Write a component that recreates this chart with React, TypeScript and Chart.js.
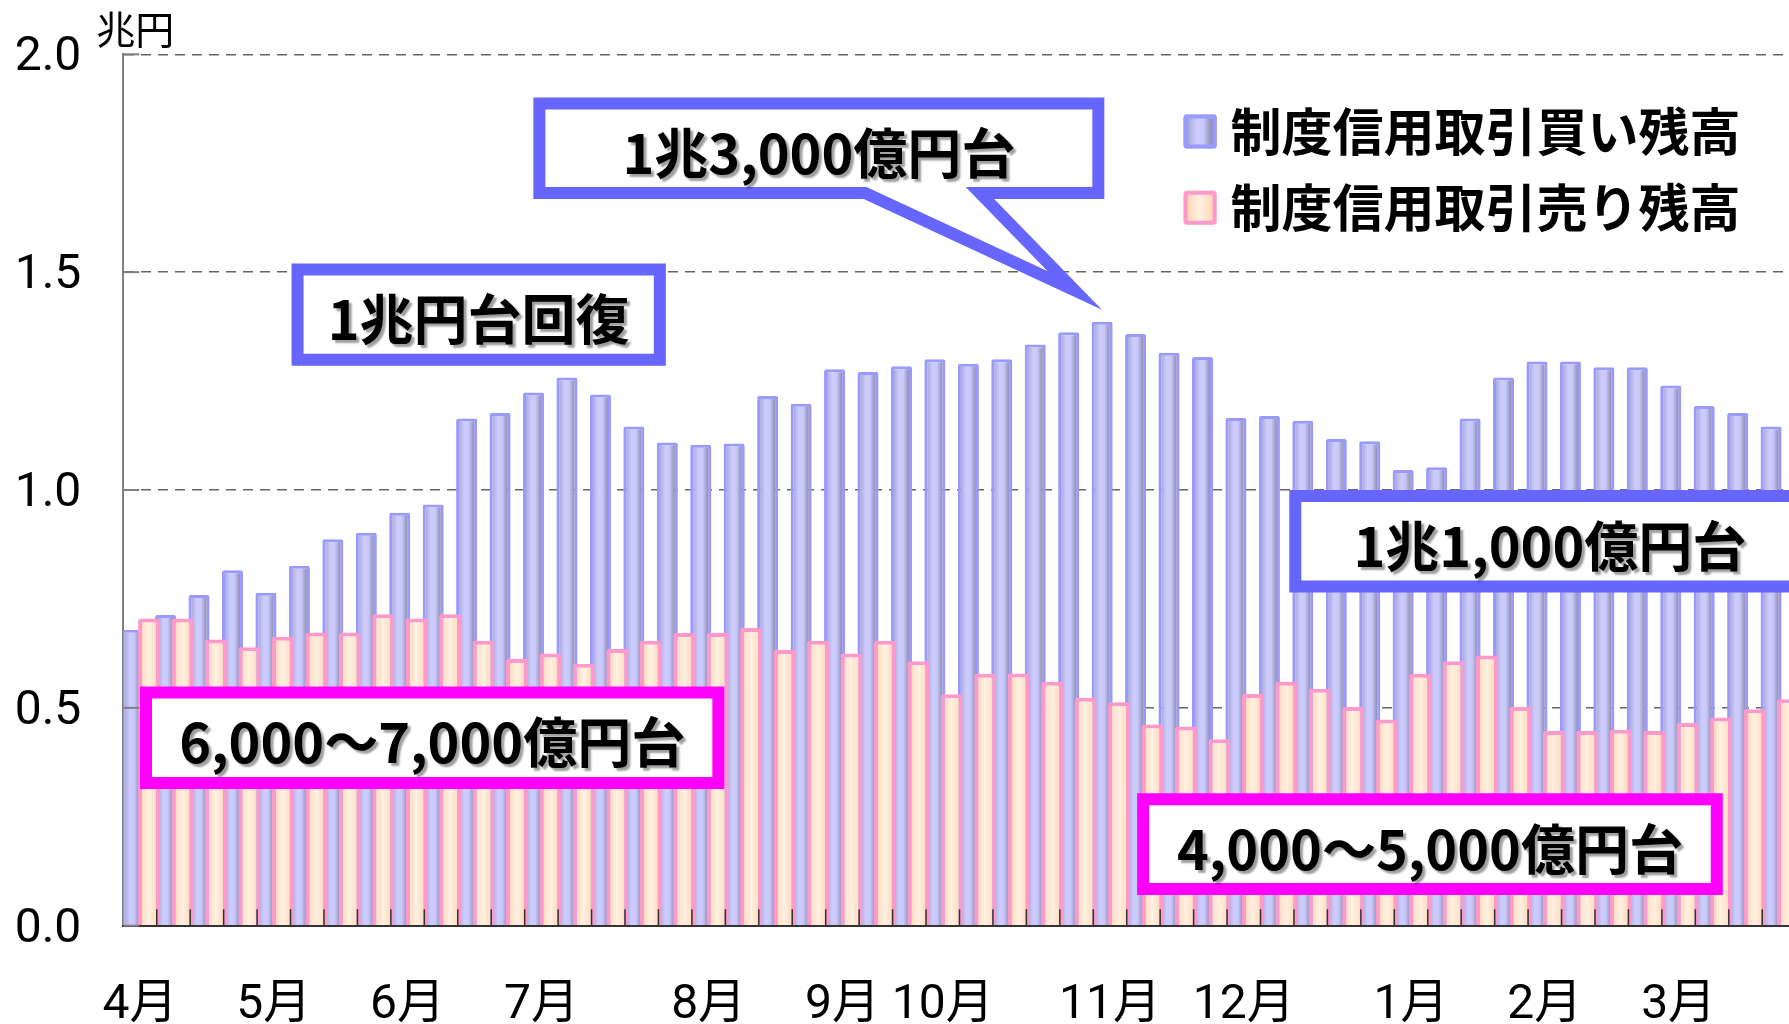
import React, { useEffect, useRef } from 'react';
import { Chart, registerables } from 'chart.js';

Chart.register(...registerables);

// ---- data ----
const WEEK_LABELS: string[] = [
  '4月', '', '', '',
  '5月', '', '', '',
  '6月', '', '', '',
  '7月', '', '', '', '',
  '8月', '', '', '',
  '9月', '', '',
  '10月', '', '', '', '',
  '11月', '', '', '',
  '12月', '', '', '', '',
  '1月', '', '', '',
  '2月', '', '', '',
  '3月', '', '', '',
];

const BUY_BALANCE: number[] = [
  0.679, 0.713, 0.759, 0.816, 0.764, 0.826, 0.887, 0.902, 0.948, 0.967,
  1.164, 1.177, 1.224, 1.258, 1.219, 1.146, 1.109, 1.104, 1.107, 1.216,
  1.198, 1.277, 1.271, 1.284, 1.300, 1.290, 1.300, 1.334, 1.362, 1.386,
  1.358, 1.315, 1.305, 1.165, 1.170, 1.159, 1.117, 1.112, 1.046, 1.052,
  1.164, 1.258, 1.295, 1.295, 1.282, 1.282, 1.240, 1.193, 1.177, 1.146,
];

const SELL_BALANCE: number[] = [
  0.705, 0.705, 0.657, 0.639, 0.663, 0.673, 0.673, 0.715, 0.705, 0.715,
  0.654, 0.612, 0.625, 0.601, 0.635, 0.654, 0.672, 0.672, 0.683, 0.633,
  0.654, 0.625, 0.654, 0.607, 0.531, 0.578, 0.579, 0.560, 0.523, 0.513,
  0.462, 0.457, 0.428, 0.532, 0.560, 0.544, 0.502, 0.473, 0.578, 0.607,
  0.620, 0.502, 0.447, 0.447, 0.450, 0.447, 0.465, 0.478, 0.497, 0.520,
];

const SERIES_NAMES: string[] = ['制度信用取引買い残高', '制度信用取引売り残高'];
const UNIT_LABEL = '兆円';
const Y_TICK_STEP = 0.5;
const Y_MIN = 0;
const Y_MAX = 2;

// ---- layout / style constants ----
const W = 1789;
const H = 1024;
const PLOT_LEFT = 123.3;
const PLOT_TOP = 54.3;
const PLOT_BOTTOM = 925.7;
const X_MAX = 49.8;
const BUY_OFFSET = 0.265;
const SELL_OFFSET = 0.77;
const AXIS_FONT = "Roboto, 'Noto Sans CJK JP', sans-serif";
const CJK_FONT = "'Noto Sans CJK JP', sans-serif";

const BUY_STOPS: [number, string][] = [
  [0, '#8c8cb6'], [0.18, '#b0b0e0'], [0.4, '#ccccff'], [0.6, '#c8c8fa'], [0.8, '#9a9ac2'], [1, '#7e7e9e'],
];
const SELL_STOPS: [number, string][] = [
  [0, '#ffc9a6'], [0.25, '#ffe2c8'], [0.5, '#fff0e2'], [0.75, '#ffe2c8'], [1, '#ffc9a6'],
];

type Annot = {
  text: string; color: string; x0: number; x1: number; y0: number; y1: number; tx?: number;
  pointer?: { b0: number; b1: number; tipX: number; tipY: number };
};

const ANNOTATIONS: Annot[] = [
  { text: '1兆3,000億円台', color: '#6666ff', x0: 12.26, x1: 29.33, y0: 1.668, y1: 1.901,
    pointer: { b0: 22.18, b1: 25.61, tipX: 28.45, tipY: 1.458 } },
  { text: '1兆円台回復', color: '#6666ff', x0: 5.03, x1: 16.22, y0: 1.285, y1: 1.52 },
  { text: '1兆1,000億円台', color: '#6666ff', x0: 34.86, x1: 50.57, y0: 0.765, y1: 1.0, tx: 42.65 },
  { text: '6,000～7,000億円台', color: '#ff00ff', x0: 0.5, x1: 17.97, y0: 0.314, y1: 0.549 },
  { text: '4,000～5,000億円台', color: '#ff00ff', x0: 30.31, x1: 47.82, y0: 0.0705, y1: 0.304 },
];

const LEGEND_X = 31.7;
const LEGEND_ROWS = [1.823, 1.648];

function makeFill(stops: [number, string][], axisId: string) {
  return (c: any) => {
    const chart = c.chart;
    const sc = chart && chart.scales ? chart.scales[axisId] : null;
    if (c.type !== 'data' || !sc || !chart.chartArea || !c.raw) return stops[2][1];
    const cx = sc.getPixelForValue(c.raw.x);
    const w = (sc.getPixelForValue(1) - sc.getPixelForValue(0)) * (c.dataset.barPercentage || 0.6);
    if (!isFinite(cx) || !isFinite(w)) return stops[2][1];
    const g = chart.ctx.createLinearGradient(cx - w / 2, 0, cx + w / 2, 0);
    stops.forEach(([o, col]) => g.addColorStop(o, col));
    return g;
  };
}

function roundRect(ctx: CanvasRenderingContext2D, x: number, y: number, w: number, h: number, r: number) {
  ctx.beginPath();
  ctx.moveTo(x + r, y);
  ctx.lineTo(x + w - r, y);
  ctx.quadraticCurveTo(x + w, y, x + w, y + r);
  ctx.lineTo(x + w, y + h - r);
  ctx.quadraticCurveTo(x + w, y + h, x + w - r, y + h);
  ctx.lineTo(x + r, y + h);
  ctx.quadraticCurveTo(x, y + h, x, y + h - r);
  ctx.lineTo(x, y + r);
  ctx.quadraticCurveTo(x, y, x + r, y);
  ctx.closePath();
}

const zeroPadding = (s: any) => {
  s.paddingTop = 0;
  s.paddingBottom = 0;
  s.paddingLeft = 0;
  s.paddingRight = 0;
};

const monthTicks = (s: any) => {
  s.ticks = WEEK_LABELS.map((l, i) => (l ? { value: i + 0.5 } : null)).filter(Boolean);
};

const decorPlugin = {
  id: 'decor',
  afterDraw(chart: any) {
    const { ctx, chartArea: ca, scales } = chart;
    const xs = scales.x;
    const ys = scales.y;
    const X = (u: number) => xs.getPixelForValue(u);
    const Y = (v: number) => ys.getPixelForValue(v);
    ctx.save();

    // inward tick marks on x axis (category boundaries)
    ctx.strokeStyle = '#333';
    ctx.lineWidth = 1.5;
    for (let i = 1; i <= WEEK_LABELS.length; i++) {
      const px = X(i);
      if (px > ca.right) break;
      ctx.beginPath();
      ctx.moveTo(px, ca.bottom);
      ctx.lineTo(px, ca.bottom - 16.5);
      ctx.stroke();
    }
    // inward tick marks on y axis
    ctx.strokeStyle = '#808080';
    ctx.lineWidth = 2;
    for (const t of ys.ticks) {
      const py = Y(t.value);
      ctx.beginPath();
      ctx.moveTo(ca.left, py);
      ctx.lineTo(ca.left + 16, py);
      ctx.stroke();
    }

    // unit label
    ctx.fillStyle = '#000';
    ctx.font = `39px ${CJK_FONT}`;
    ctx.textAlign = 'left';
    ctx.textBaseline = 'middle';
    ctx.fillText(UNIT_LABEL, ca.left - 27, ca.top - 25);

    // annotation boxes
    for (const a of ANNOTATIONS) {
      const l = X(a.x0), r = X(a.x1), t = Y(a.y1), b = Y(a.y0);
      const lw = 12, h = lw / 2;
      ctx.beginPath();
      ctx.moveTo(l + h, t + h);
      ctx.lineTo(r - h, t + h);
      ctx.lineTo(r - h, b - h);
      if (a.pointer) {
        ctx.lineTo(X(a.pointer.b1), b - h);
        ctx.lineTo(X(a.pointer.tipX), Y(a.pointer.tipY));
        ctx.lineTo(X(a.pointer.b0), b - h);
      }
      ctx.lineTo(l + h, b - h);
      ctx.closePath();
      ctx.fillStyle = '#fff';
      ctx.fill();
      ctx.lineWidth = lw;
      ctx.lineJoin = 'miter';
      ctx.miterLimit = 10;
      ctx.strokeStyle = a.color;
      ctx.stroke();

      ctx.save();
      ctx.font = `bold 54px ${CJK_FONT}`;
      ctx.textAlign = 'center';
      ctx.textBaseline = 'middle';
      ctx.shadowColor = 'rgba(0,0,0,0.38)';
      ctx.shadowOffsetX = 3;
      ctx.shadowOffsetY = 3;
      ctx.shadowBlur = 2;
      ctx.fillStyle = '#000';
      const tx = X(a.tx !== undefined ? a.tx : (a.x0 + a.x1) / 2);
      ctx.fillText(a.text, tx, (t + b) / 2 + 5);
      ctx.restore();
    }

    // legend
    const dsets = chart.data.datasets;
    dsets.forEach((ds: any, k: number) => {
      const bx = X(LEGEND_X);
      const cy = Y(LEGEND_ROWS[k]);
      const bw = 33, bh = 34;
      const by = cy - bh / 2;
      const stops = k === 0 ? BUY_STOPS : SELL_STOPS;
      const g = ctx.createLinearGradient(bx, 0, bx + bw, 0);
      stops.forEach(([o, col]) => g.addColorStop(o, col));
      roundRect(ctx, bx, by, bw, bh, 3);
      ctx.fillStyle = g;
      ctx.fill();
      roundRect(ctx, bx + 2, by + 2, bw - 4, bh - 4, 2);
      ctx.lineWidth = 4;
      ctx.strokeStyle = ds.borderColor;
      ctx.stroke();
      ctx.fillStyle = '#000';
      ctx.font = `bold 51px ${CJK_FONT}`;
      ctx.textAlign = 'left';
      ctx.textBaseline = 'middle';
      ctx.fillText(ds.label, bx + bw + 14, cy);
    });

    ctx.restore();
  },
};

export default function App() {
  const ref = useRef<HTMLCanvasElement | null>(null);

  useEffect(() => {
    const canvas = ref.current;
    if (!canvas) return;
    const buyData = BUY_BALANCE.map((v, i) => ({ x: i + BUY_OFFSET, y: v }));
    const sellData = SELL_BALANCE.map((v, i) => ({ x: i + SELL_OFFSET, y: v }));

    const chart = new Chart(canvas, {
      type: 'bar',
      data: {
        datasets: [
          {
            label: SERIES_NAMES[0],
            data: buyData as any,
            xAxisID: 'x',
            yAxisID: 'y',
            grouped: false,
            categoryPercentage: 1,
            barPercentage: 0.63,
            order: 1,
            borderColor: '#9999ff',
            borderWidth: 3,
            borderRadius: 2,
            borderSkipped: 'bottom',
            backgroundColor: makeFill(BUY_STOPS, 'x') as any,
            clip: { left: 0, top: false, right: false, bottom: 0 } as any,
          },
          {
            label: SERIES_NAMES[1],
            data: sellData as any,
            xAxisID: 'x2',
            yAxisID: 'y',
            grouped: false,
            categoryPercentage: 1,
            barPercentage: 0.655,
            order: 0,
            borderColor: '#ff99cc',
            borderWidth: 4,
            borderRadius: 2,
            borderSkipped: 'bottom',
            backgroundColor: makeFill(SELL_STOPS, 'x2') as any,
            clip: { left: 0, top: false, right: false, bottom: 0 } as any,
          },
        ],
      },
      options: {
        animation: false,
        responsive: false,
        maintainAspectRatio: false,
        devicePixelRatio: 1,
        layout: { autoPadding: false, padding: { top: PLOT_TOP, right: 0, bottom: 0, left: 0 } },
        plugins: {
          legend: { display: false },
          tooltip: { enabled: false },
          title: { display: false },
        },
        scales: {
          x: {
            type: 'linear',
            position: 'bottom',
            offset: false,
            min: 0,
            max: X_MAX,
            grid: { display: false, drawTicks: false, offset: false },
            border: { display: true, color: '#333', width: 2, z: 1 },
            ticks: {
              autoSkip: false,
              maxRotation: 0,
              minRotation: 0,
              padding: 51,
              color: '#000',
              font: { family: AXIS_FONT, size: 48, lineHeight: 1.2 },
              callback: (v: any) => WEEK_LABELS[Math.floor(Number(v))] || '',
            },
            afterBuildTicks: monthTicks,
            afterFit: (s: any) => {
              s.height = H - PLOT_BOTTOM;
              zeroPadding(s);
            },
          },
          x2: {
            type: 'linear',
            position: 'bottom',
            offset: false,
            min: 0,
            max: X_MAX,
            display: false,
            afterBuildTicks: monthTicks,
            afterFit: (s: any) => {
              zeroPadding(s);
            },
          },
          y: {
            type: 'linear',
            position: 'left',
            min: Y_MIN,
            max: Y_MAX,
            ticks: {
              stepSize: Y_TICK_STEP,
              padding: 42,
              labelOffset: 4,
              color: '#000',
              font: { family: AXIS_FONT, size: 48, lineHeight: 1.2 },
              callback: (v: any) => Number(v).toFixed(1),
            },
            grid: { color: '#666', lineWidth: 1.5, drawTicks: false },
            border: { display: true, color: '#808080', width: 2, dash: [10, 7] },
            afterFit: (s: any) => {
              s.width = PLOT_LEFT;
              zeroPadding(s);
            },
          },
        },
      } as any,
      plugins: [decorPlugin],
    });

    // safeguard: nudge the layout so the plot area lands where intended
    for (let k = 0; k < 3; k++) {
      const ca = chart.chartArea;
      const pad: any = (chart.options as any).layout.padding;
      const dTop = PLOT_TOP - ca.top;
      if (Math.abs(dTop) < 0.2) break;
      pad.top = Math.max(0, pad.top + dTop);
      chart.update();
    }

    return () => {
      chart.destroy();
    };
  }, []);

  return (
    <div style={{ position: 'absolute', left: 0, top: 0, width: W, height: H, background: '#fff' }}>
      <canvas ref={ref} width={W} height={H} style={{ display: 'block', width: W, height: H }} />
    </div>
  );
}
